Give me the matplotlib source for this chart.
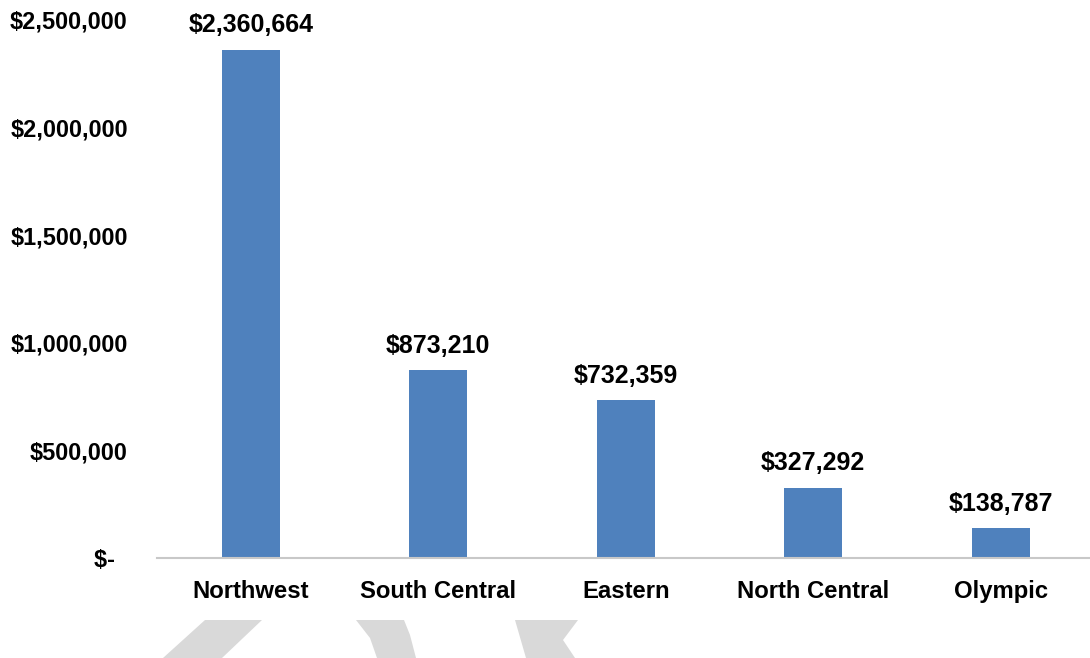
import matplotlib.pyplot as plt
from matplotlib.patches import Polygon
from matplotlib.ticker import FuncFormatter

# %% data
regions = ['Northwest', 'South Central', 'Eastern', 'North Central', 'Olympic']
amounts = [2360664, 873210, 732359, 327292, 138787]
yticks = [0, 500000, 1000000, 1500000, 2000000, 2500000]

plt.rcParams['font.family'] = ['Liberation Sans', 'DejaVu Sans']
plt.rcParams['font.weight'] = 'bold'

W, H = 1090, 658
fig = plt.figure(figsize=(W / 100, H / 100), dpi=100)
ax = fig.add_axes([157 / W, 1 - 558 / H, (W - 157) / W, (558 - 20) / H])

x = range(len(regions))
ax.bar(x, amounts, width=0.31, color='#4F81BD', zorder=2)
for xi, v in zip(x, amounts):
    ax.annotate(f'${v:,.0f}', (xi, v), xytext=(0, 9), textcoords='offset points',
                ha='center', va='bottom', fontsize=18, fontweight='bold')

def money(v, pos):
    if v == 0:
        return '$-  '
    return f'${v:,.0f}'

ax.set_ylim(0, 2500000)
ax.set_xlim(-0.5, 4.476)
ax.set_yticks(yticks)
ax.yaxis.set_major_formatter(FuncFormatter(money))
ax.set_xticks(list(x))
ax.set_xticklabels(regions)
ax.tick_params(axis='y', length=0, pad=21, labelsize=16.9)
ax.tick_params(axis='x', length=0, pad=16, labelsize=17.2)
for s in ['top', 'right', 'left']:
    ax.spines[s].set_visible(False)
ax.spines['bottom'].set_color('#c8c8c8')
ax.spines['bottom'].set_linewidth(1.5)

# gray watermark fragments at the bottom edge
def px(pts):
    return [(a / W, 1 - b / H) for a, b in pts]

shapes = [
    [(205, 620), (262, 620), (222, 658), (163, 658)],
    [(356, 620), (404, 620), (410, 635), (416, 658), (377, 658), (370, 638)],
    [(515, 620), (578, 620), (563, 640), (575, 658), (526, 658)],
]
for s in shapes:
    fig.patches.append(Polygon(px(s), closed=True, transform=fig.transFigure,
                               facecolor='#d9d9d9', edgecolor='none'))

fig.savefig('out.png', dpi=100)
